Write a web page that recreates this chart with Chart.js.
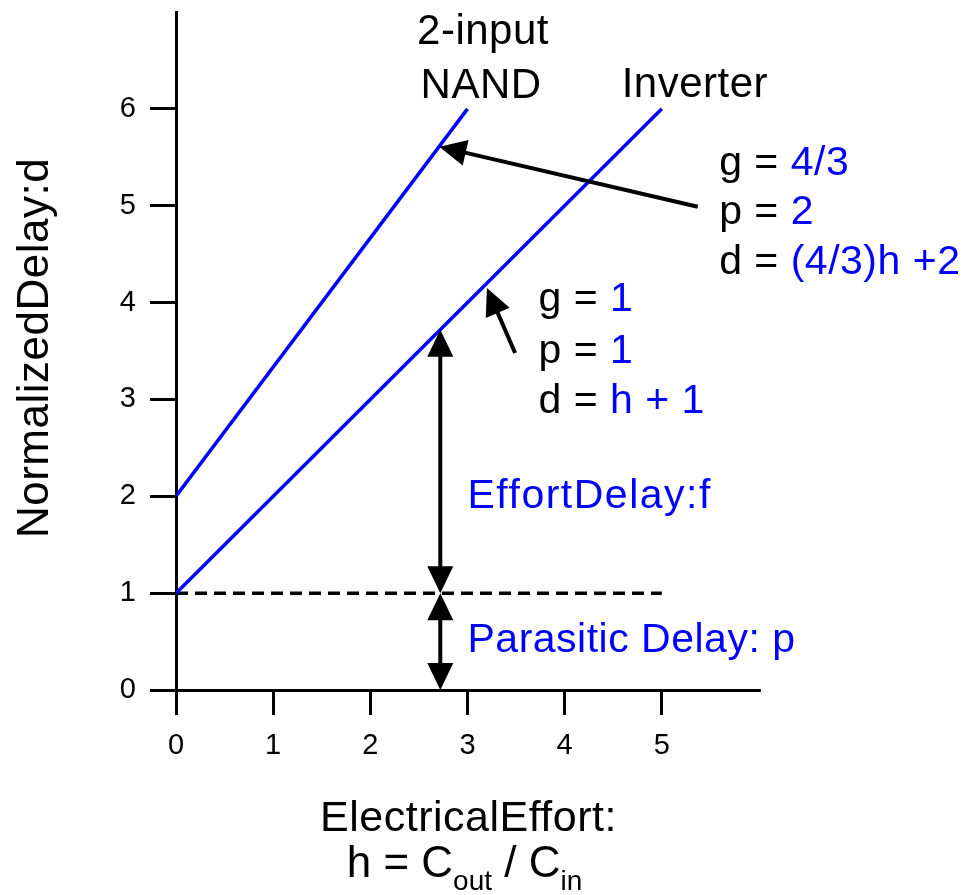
<!DOCTYPE html>
<html>
<head>
<meta charset="utf-8">
<script src="https://cdn.jsdelivr.net/npm/chart.js@4.4.0/dist/chart.umd.min.js"></script>
<style>
  html, body { margin: 0; padding: 0; background: #fff; }
  #wrap { width: 977px; height: 895px; }
</style>
</head>
<body>
<div id="wrap"><canvas id="delayChart" width="977" height="895"></canvas></div>
<script>
// electrical effort h and delay d for each gate
const nandH = [0, 3];
const nandD = [2, 6];
const invH = [0, 5];
const invD = [1, 6];
const parasiticH = [0, 5];
const parasiticD = [1, 1];
const xTicks = [0, 1, 2, 3, 4, 5];
const yTicks = [0, 1, 2, 3, 4, 5, 6];

// annotation arrows, in data units: [fromH, fromD, toH, toD, doubleHeaded]
const arrows = [
    [5.37, 4.99, 2.71, 5.61, false],
    [3.49, 3.48, 3.20, 4.15, false],
    [2.72, 1.0, 2.72, 3.72, true],
    [2.72, 0.0, 2.72, 1.0, true]
];

const BLUE = '#0000ff';
const FONT = '"Liberation Sans", Arial, Helvetica, sans-serif';

function pts(xs, ys) {
    return xs.map((x, i) => ({ x: x, y: ys[i] }));
}

function arrowHead(ctx, x1, y1, x2, y2, len, w) {
    const a = Math.atan2(y2 - y1, x2 - x1);
    ctx.beginPath();
    ctx.moveTo(x2, y2);
    ctx.lineTo(x2 - len * Math.cos(a) + w / 2 * Math.sin(a), y2 - len * Math.sin(a) - w / 2 * Math.cos(a));
    ctx.lineTo(x2 - len * Math.cos(a) - w / 2 * Math.sin(a), y2 - len * Math.sin(a) + w / 2 * Math.cos(a));
    ctx.closePath();
    ctx.fill();
}

function text(ctx, s, x, y, color, size, align) {
    ctx.font = size + 'px ' + FONT;
    ctx.fillStyle = color;
    ctx.textAlign = align || 'left';
    ctx.textBaseline = 'alphabetic';
    ctx.fillText(s, x, y);
    return ctx.measureText(s).width;
}

// draw a line made of [string, color] pieces
function runs(ctx, parts, x, y, size) {
    parts.forEach(p => {
        x += text(ctx, p[0], x, y, p[1], size);
    });
}

const annotations = {
    id: 'annotations',
    afterDatasetsDraw(chart) {
        const ctx = chart.ctx;
        const xs = chart.scales.x, ys = chart.scales.y;
        ctx.save();
        ctx.strokeStyle = '#000';
        ctx.fillStyle = '#000';
        ctx.lineWidth = 4;
        arrows.forEach(a => {
            const x1 = xs.getPixelForValue(a[0]), y1 = ys.getPixelForValue(a[1]);
            const x2 = xs.getPixelForValue(a[2]), y2 = ys.getPixelForValue(a[3]);
            const len = 27, w = 26;
            const ang = Math.atan2(y2 - y1, x2 - x1);
            const sx = a[4] ? x1 + (len - 4) * Math.cos(ang) : x1;
            const sy = a[4] ? y1 + (len - 4) * Math.sin(ang) : y1;
            ctx.beginPath();
            ctx.moveTo(sx, sy);
            ctx.lineTo(x2 - (len - 4) * Math.cos(ang), y2 - (len - 4) * Math.sin(ang));
            ctx.stroke();
            arrowHead(ctx, x1, y1, x2, y2, len, w);
            if (a[4]) arrowHead(ctx, x2, y2, x1, y1, len, w);
        });
        ctx.restore();
    },
    afterDraw(chart) {
        const ctx = chart.ctx;
        const xs = chart.scales.x, ys = chart.scales.y;
        const px = v => xs.getPixelForValue(v);
        const py = v => ys.getPixelForValue(v);
        ctx.save();
        ctx.letterSpacing = '0.5px';
        // curve labels
        text(ctx, '2-input', px(3.16), py(6.67), '#000', 42, 'center');
        text(ctx, 'NAND', px(3.14), py(6.11), '#000', 42, 'center');
        text(ctx, 'Inverter', px(5.34), py(6.12), '#000', 42, 'center');
        // NAND parameters
        runs(ctx, [['g = ', '#000'], ['4/3', BLUE]], px(5.59), py(5.32), 41);
        runs(ctx, [['p = ', '#000'], ['2', BLUE]], px(5.59), py(4.81), 41);
        runs(ctx, [['d = ', '#000'], ['(4/3)h +2', BLUE]], px(5.59), py(4.29), 41);
        // inverter parameters
        runs(ctx, [['g = ', '#000'], ['1', BLUE]], px(3.73), py(3.91), 41);
        runs(ctx, [['p = ', '#000'], ['1', BLUE]], px(3.73), py(3.38), 41);
        runs(ctx, [['d = ', '#000'], ['h + 1', BLUE]], px(3.73), py(2.86), 41);
        // delay components
        ctx.letterSpacing = '1.5px';
        text(ctx, 'EffortDelay:f', px(3.0), py(1.88), BLUE, 41);
        ctx.letterSpacing = '0.5px';
        text(ctx, 'Parasitic Delay: p', px(3.0), py(0.39), BLUE, 41);

        // axis titles
        const cx = px(3) + 1;
        ctx.letterSpacing = '0.5px';
        text(ctx, 'ElectricalEffort:', cx, 831, '#000', 43, 'center');
        ctx.letterSpacing = '0px';
        ctx.font = '44px ' + FONT;
        const w1 = ctx.measureText('h = C').width;
        ctx.font = '28px ' + FONT;
        const w2 = ctx.measureText('out').width;
        ctx.font = '44px ' + FONT;
        const w3 = ctx.measureText(' / C').width;
        ctx.font = '28px ' + FONT;
        const w4 = ctx.measureText('in').width;
        let x0 = cx - 4 - (w1 + w2 + w3 + w4) / 2;
        text(ctx, 'h = C', x0, 877, '#000', 44);
        text(ctx, 'out', x0 + w1, 890, '#000', 28);
        text(ctx, ' / C', x0 + w1 + w2, 877, '#000', 44);
        text(ctx, 'in', x0 + w1 + w2 + w3, 890, '#000', 28);

        ctx.translate(36, 348);
        ctx.rotate(-Math.PI / 2);
        ctx.letterSpacing = '0.5px';
        ctx.font = '44px ' + FONT;
        ctx.fillStyle = '#000';
        ctx.textAlign = 'center';
        ctx.textBaseline = 'middle';
        ctx.fillText('NormalizedDelay:d', 0, 0);
        ctx.restore();
    }
};

const ctx = document.getElementById('delayChart').getContext('2d');
new Chart(ctx, {
    type: 'scatter',
    data: {
        datasets: [
            {
                label: '2-input NAND',
                data: pts(nandH, nandD),
                showLine: true,
                borderColor: BLUE,
                borderWidth: 3.5,
                pointRadius: 0
            },
            {
                label: 'Inverter',
                data: pts(invH, invD),
                showLine: true,
                borderColor: BLUE,
                borderWidth: 3.5,
                pointRadius: 0
            },
            {
                label: 'Parasitic',
                data: pts(parasiticH, parasiticD),
                showLine: true,
                borderColor: '#000',
                borderWidth: 3.5,
                borderDash: [12, 7],
                pointRadius: 0
            }
        ]
    },
    options: {
        responsive: false,
        animation: false,
        events: [],
        layout: { padding: { top: 12, right: 218, left: 0, bottom: 0 } },
        plugins: {
            legend: { display: false },
            tooltip: { enabled: false }
        },
        scales: {
            x: {
                type: 'linear',
                min: 0,
                max: 6,
                afterBuildTicks: s => { s.ticks = xTicks.map(v => ({ value: v })); },
                afterFit: s => { s.height = 205; },
                grid: { drawOnChartArea: false, color: '#000', lineWidth: 3, tickLength: 25 },
                border: { display: true, color: '#000', width: 3 },
                ticks: { color: '#000', font: { family: FONT, size: 29 }, padding: 14 }
            },
            y: {
                type: 'linear',
                min: 0,
                max: 7,
                afterBuildTicks: s => { s.ticks = yTicks.map(v => ({ value: v })); },
                afterFit: s => { s.width = 176; s.paddingTop = 0; s.paddingBottom = 0; },
                grid: { drawOnChartArea: false, color: '#000', lineWidth: 3, tickLength: 26 },
                border: { display: true, color: '#000', width: 3 },
                ticks: { color: '#000', font: { family: FONT, size: 29 }, padding: 14 }
            }
        }
    },
    plugins: [annotations]
});
</script>
</body>
</html>
